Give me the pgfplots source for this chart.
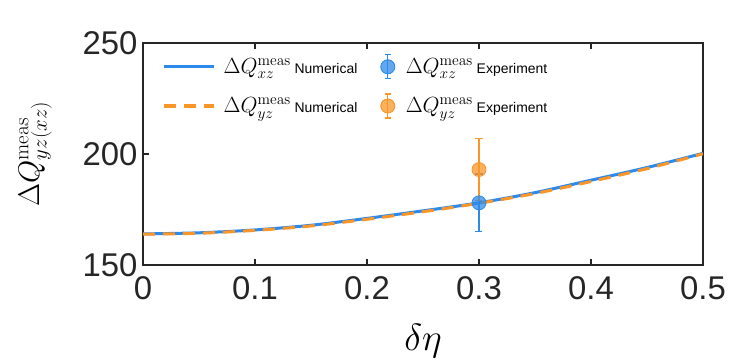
\RequirePackage{fix-cm}
\documentclass[border=0pt]{standalone}
\usepackage{pgfplots}
\pgfplotsset{compat=1.18}
\usepackage[no-math]{fontspec}
\setmainfont{Liberation Sans}

\definecolor{lineblue}{RGB}{45,138,235}
\definecolor{lineorange}{RGB}{250,150,40}
\definecolor{axgray}{RGB}{38,38,38}

\newcommand{\lm}[1]{{\fontsize{22}{24}\selectfont$#1$}}

% numerical curves
\pgfplotstableread{
x     y
0.00  164.0
0.05  164.5
0.10  165.8
0.15  167.9
0.20  171.0
0.25  174.4
0.30  178.0
0.35  182.6
0.40  188.2
0.45  193.9
0.50  200.3
}\numxz

\pgfplotstableread{
x     y
0.00  163.9
0.05  164.3
0.10  165.6
0.15  167.6
0.20  170.6
0.25  174.0
0.30  177.8
0.35  182.2
0.40  187.6
0.45  193.4
0.50  200.1
}\numyz

\begin{document}
\begin{tikzpicture}
\begin{axis}[
    width=560bp,
    height=222bp,
    scale only axis,
    xmin=0, xmax=0.5,
    ymin=150, ymax=250,
    xtick={0,0.1,0.2,0.3,0.4,0.5},
    xticklabels={0,0.1,0.2,0.3,0.4,0.5},
    ytick={150,200,250},
    tick pos=both,
    tick align=inside,
    major tick length=6bp,
    axis line style={axgray, line width=1.3bp},
    tick style={axgray, line width=1.2bp},
    tick label style={font=\fontsize{33}{36}\selectfont, text=axgray},
    /pgf/number format/assume math mode=true,
    xticklabel style={yshift=-8bp},
    yticklabel style={xshift=-2bp},
    xlabel={$\delta\eta$},
    ylabel={$\Delta Q^{\mathrm{meas}}_{yz(xz)}$},
    xlabel style={font=\fontsize{38}{42}\selectfont, at={(axis description cs:0.5,-0.265)}, anchor=north, inner sep=0pt},
    ylabel style={font=\fontsize{30}{34}\selectfont, at={(axis description cs:-0.1625,0.5)}, anchor=south, inner sep=0pt},
    legend columns=2,
    legend cell align=left,
    legend style={
        at={(rel axis cs:0,1)}, anchor=north west,
        xshift=19bp, yshift=-11bp,
        draw=none, fill=none, inner sep=0pt,
        nodes={inner sep=0pt},
        font=\fontsize{14}{16}\selectfont,
        row sep=14bp,
        /tikz/every even column/.append style={column sep=23bp},
    },
]

% --- legend entries ---
\addlegendimage{legend image code/.code={
    \path[draw=none] (0bp,0bp) -- (60bp,0bp);
    \draw[lineblue, line width=3bp] (0bp,0bp) -- (50bp,0bp);}}
\addlegendentry{\lm{\Delta Q_{xz}^{\mathrm{meas}}} Numerical}
\addlegendimage{legend image code/.code={
    \path[draw=none] (0bp,0bp) -- (25bp,0bp);
    \draw[lineblue, line width=1.2bp] (7bp,-12bp) -- (7bp,12bp)
        (4bp,-12bp) -- (10bp,-12bp) (4bp,12bp) -- (10bp,12bp);
    \fill[lineblue, fill opacity=0.75] (7bp,0bp) circle (7bp);
    \draw[lineblue, line width=0.8bp] (7bp,0bp) circle (7bp);}}
\addlegendentry{\lm{\Delta Q_{xz}^{\mathrm{meas}}} Experiment}
\addlegendimage{legend image code/.code={
    \path[draw=none] (0bp,0bp) -- (60bp,0bp);
    \draw[lineorange, line width=3bp, dash pattern=on 12bp off 8bp] (0bp,0bp) -- (50bp,0bp);}}
\addlegendentry{\lm{\Delta Q_{yz}^{\mathrm{meas}}} Numerical}
\addlegendimage{legend image code/.code={
    \path[draw=none] (0bp,0bp) -- (25bp,0bp);
    \draw[lineorange, line width=1.2bp] (7bp,-12bp) -- (7bp,12bp)
        (4bp,-12bp) -- (10bp,-12bp) (4bp,12bp) -- (10bp,12bp);
    \fill[lineorange, fill opacity=0.75] (7bp,0bp) circle (7bp);
    \draw[lineorange, line width=0.8bp] (7bp,0bp) circle (7bp);}}
\addlegendentry{\lm{\Delta Q_{yz}^{\mathrm{meas}}} Experiment}

% --- numerical xz ---
\addplot[lineblue, line width=3bp, smooth, forget plot] table[x=x, y=y] {\numxz};

% --- experiment xz ---
\addplot[
    lineblue, only marks, mark=*, mark size=7bp, forget plot,
    mark options={fill=lineblue, fill opacity=0.75, draw=lineblue, line width=0.8bp},
    error bars/.cd, y dir=both, y explicit,
    error bar style={lineblue, line width=1.2bp},
    error mark options={rotate=90, mark size=3.5bp, line width=1.2bp, lineblue},
] coordinates {(0.3,178) +- (0,13)};

% --- numerical yz ---
\addplot[lineorange, line width=3bp, dash pattern=on 12bp off 8bp, smooth, forget plot] table[x=x, y=y] {\numyz};

% --- experiment yz ---
\addplot[
    lineorange, only marks, mark=*, mark size=7bp, forget plot,
    mark options={fill=lineorange, fill opacity=0.75, draw=lineorange, line width=0.8bp},
    error bars/.cd, y dir=both, y explicit,
    error bar style={lineorange, line width=1.2bp},
    error mark options={rotate=90, mark size=3.5bp, line width=1.2bp, lineorange},
] coordinates {(0.3,193) +- (0,14)};

\end{axis}
% fix the picture's bounds to the reference's frame
\path (-143bp,-99bp) rectangle (605bp,265bp);
\end{tikzpicture}
\end{document}
